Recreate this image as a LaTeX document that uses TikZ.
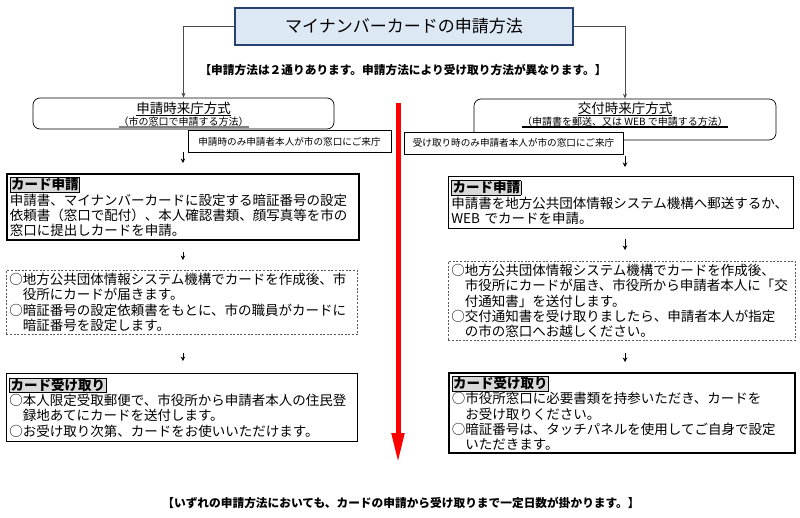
\documentclass[tikz,border=0pt]{standalone}
\usepackage{fontspec}
\setmainfont{Noto Sans CJK JP}
\usetikzlibrary{arrows.meta, positioning}

\definecolor{titlefill}{RGB}{221,232,245}
\definecolor{titleline}{RGB}{38,66,115}

% grey label box for the step heading
\newcommand{\steplabel}[1]{{\setlength{\fboxsep}{0.5pt}\setlength{\fboxrule}{0.7pt}\fcolorbox{black}{gray!30}{\bfseries #1}}}
% underline with a given colour and thickness
\newcommand{\methodul}[3]{\sbox0{#3}\leavevmode\rlap{\color{#1}\rule[-2.6pt]{\wd0}{#2}}\usebox0}

\begin{document}
\begin{tikzpicture}[x=1pt, y=-1pt,
        font=\fontsize{13.5}{15.2}\selectfont,
        titlebox/.style={draw=titleline, line width=2pt, fill=titlefill, minimum width=338pt, minimum height=37pt, font=\fontsize{17}{20}\selectfont},
        methodbox/.style={draw, rounded corners=7pt, line width=0.7pt},
        methodtext/.style={align=center, inner sep=0pt, font=\fontsize{13.5}{13}\selectfont},
        callout/.style={draw, fill=white, line width=0.7pt, inner sep=0pt, font=\fontsize{9.6}{11}\selectfont},
        stepbox/.style={draw, anchor=north west, align=left, inner sep=3pt, line width=0.7pt},
        thickstep/.style={stepbox, line width=1.8pt},
        dashstep/.style={stepbox, draw=black!65, dash pattern=on 2pt off 1.6pt},
        note/.style={font=\bfseries\fontsize{11.7}{13}\selectfont},
        connector/.style={draw=black!70, line width=0.8pt, -{Stealth[length=5pt, width=4pt]}},
        smallarrow/.style={line width=0.6pt, -{Stealth[length=4.5pt, width=4.5pt]}},
        redarrow/.style={draw=red, line width=5pt, -{Triangle[length=30pt, width=12pt]}}
    ]
    \useasboundingbox (0,0) rectangle (800,517);

    % title and the two methods
    \node[titlebox] (title) at (404,26.5) {マイナンバーカードの申請方法};
    \node[note] (intro) at (403,70) {【申請方法は２通りあります。申請方法により受け取り方法が異なります。】};

    \node[methodbox, minimum width=301pt, minimum height=31pt] (leftm) at (183.5,113.5) {};
    \node[methodtext, below=4pt of leftm.north] (leftmtext) {\methodul{black}{1pt}{申請時来庁方式}\\[-1pt]
        {\fontsize{10}{12}\selectfont\methodul{gray}{2.2pt}{（市の窓口で申請する方法）}}};
    \node[methodbox, minimum width=302pt, minimum height=41pt] (rightm) at (625,119.5) {};
    \node[methodtext, below=3pt of rightm.north] (rightmtext) {\methodul{black}{1pt}{交付時来庁方式}\\[-1pt]
        {\fontsize{10}{12}\selectfont\methodul{black}{1.6pt}{（申請書を郵送、又は WEB で申請する方法）}}};

    \node[callout, minimum width=203pt, minimum height=22pt] (leftcall) at (289.5,141.5) {申請時のみ申請者本人が市の窓口にご来庁};
    \node[callout, minimum width=219pt, minimum height=22pt] (rightcall) at (513.5,143) {受け取り時のみ申請者本人が市の窓口にご来庁};

    % left column
    \node[thickstep, text width=346pt, minimum height=66pt] (leftreq) at (6,173) {\steplabel{カード申請}\\
        申請書、マイナンバーカードに設定する暗証番号の設定\\
        依頼書（窓口で配付）、本人確認書類、顔写真等を市の\\
        窓口に提出しカードを申請。};
    \node[dashstep, text width=345pt, minimum height=61pt] (leftmake) at (6,270) {○地方公共団体情報システム機構でカードを作成後、市\\
        \hspace*{1em}役所にカードが届きます。\\
        ○暗証番号の設定依頼書をもとに、市の職員がカードに\\
        \hspace*{1em}暗証番号を設定します。};
    \node[stepbox, text width=345pt, minimum height=68pt] (leftget) at (6,373) {\steplabel{カード受け取り}\\
        ○本人限定受取郵便で、市役所から申請者本人の住民登\\
        \hspace*{1em}録地あてにカードを送付します。\\
        ○お受け取り次第、カードをお使いいただけます。};

    % right column
    \node[stepbox, text width=339pt, minimum height=52pt] (rightreq) at (448,176) {\steplabel{カード申請}\\
        申請書を地方公共団体情報システム機構へ郵送するか、\\
        WEB でカードを申請。};
    \node[dashstep, text width=341pt, minimum height=77pt] (rightmake) at (448,261) {○地方公共団体情報システム機構でカードを作成後、\\
        \hspace*{1em}市役所にカードが届き、市役所から申請者本人に「交\\
        \hspace*{1em}付通知書」を送付します。\\
        ○交付通知書を受け取りましたら、申請者本人が指定\\
        \hspace*{1em}の市の窓口へお越しください。};
    \node[thickstep, text width=340pt, minimum height=77pt] (rightget) at (448,372) {\steplabel{カード受け取り}\\
        ○市役所窓口に必要書類を持参いただき、カードを\\
        \hspace*{1em}お受け取りください。\\
        ○暗証番号は、タッチパネルを使用してご自身で設定\\
        \hspace*{1em}いただきます。};

    \node[note] (outro) at (401,503) {【いずれの申請方法においても、カードの申請から受け取りまで一定日数が掛かります。】};

    % connectors
    \draw[connector] (title.west) -| (leftm.north);
    \draw[connector] (title.east) -| (rightm.north);

    \draw[smallarrow, shorten <=23pt, shorten >=10pt] (leftreq.north |- leftm.south) -- (leftreq.north);
    \draw[smallarrow, shorten <=11pt, shorten >=10pt] (leftreq.south) -- (leftreq.south |- leftmake.north);
    \draw[smallarrow, shorten <=18pt, shorten >=12pt] (leftreq.south |- leftmake.south) -- (leftreq.south |- leftget.north);

    \draw[smallarrow, shorten <=16pt, shorten >=9pt] (rightm.south) -- (rightm.south |- rightreq.north);
    \draw[smallarrow, shorten <=10pt, shorten >=11pt] (rightm.south |- rightreq.south) -- (rightm.south |- rightmake.north);
    \draw[smallarrow, shorten <=12pt, shorten >=10pt] (rightm.south |- rightmake.south) -- (rightm.south |- rightget.north);

    \coordinate (redtop) at (398,103);
    \coordinate (redtip) at (398,463);
    \draw[redarrow] (redtop) -- (redtip);
\end{tikzpicture}
\end{document}
